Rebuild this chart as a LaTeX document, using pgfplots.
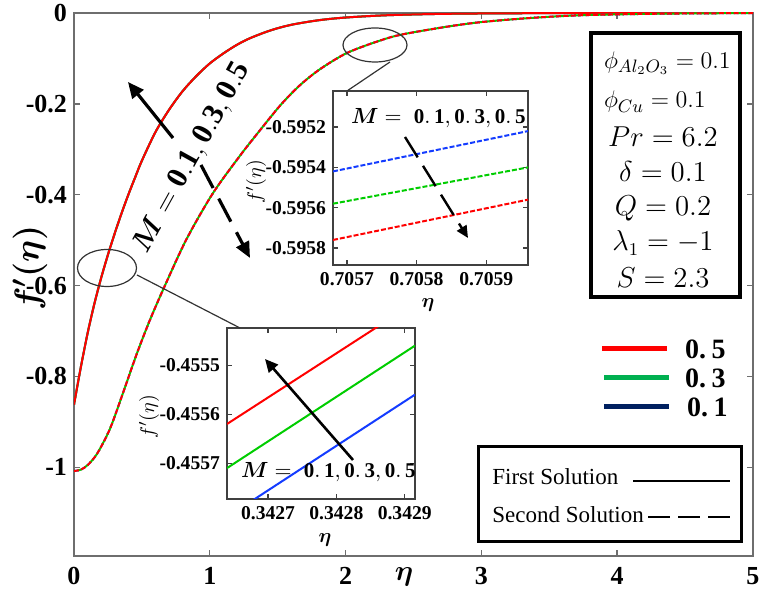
\documentclass[border=0pt]{standalone}
\usepackage{fontspec}
\setmainfont{Liberation Serif}
\usepackage{amsmath}
\usepackage{bm}
\usepackage{pgfplots}
\usepackage{pgfplotstable}
\pgfplotsset{compat=1.18}
\usetikzlibrary{arrows.meta}
\definecolor{cred}{RGB}{255,0,0}
\definecolor{cgreen}{RGB}{0,205,0}
\definecolor{cblue}{RGB}{20,60,255}
\definecolor{lgreen}{RGB}{0,176,80}
\definecolor{lblue}{RGB}{0,32,96}
\definecolor{axgray}{RGB}{110,110,110}

\pgfplotstableread{
eta fp
0    -0.862
0.05 -0.780
0.1  -0.705
0.15 -0.640
0.2  -0.583
0.25 -0.532
0.3  -0.485
0.35 -0.441
0.4  -0.400
0.45 -0.362
0.5  -0.325
0.6  -0.262
0.7  -0.213
0.8  -0.172
0.9  -0.139
1.0  -0.111
1.1  -0.089
1.2  -0.070
1.3  -0.055
1.45 -0.038
1.6  -0.026
1.8  -0.016
2.0  -0.010
2.3  -0.005
2.7  -0.002
3.2  -0.0007
4.0  -0.0001
5.0  0
}\first

\pgfplotstableread{
eta fp
0     -1.008
0.05  -1.005
0.1   -0.995
0.17  -0.970
0.265 -0.915
0.36  -0.837
0.46  -0.752
0.56  -0.675
0.68  -0.593
0.83  -0.497
1.02  -0.398
1.22  -0.315
1.37  -0.258
1.52  -0.203
1.66  -0.160
1.81  -0.124
2.01  -0.088
2.25  -0.061
2.42  -0.047
2.75  -0.030
3.0   -0.020
3.36  -0.011
3.73  -0.005
4.2   -0.002
4.6   -0.0008
5.0   -0.0003
}\second

\newcommand{\fpr}{f^{\prime}(\eta)}

\begin{document}
\begin{tikzpicture}
% ---------------- main axis
\begin{axis}[
  at={(37pt,18pt)}, anchor=south west, scale only axis,
  width=339.5pt, height=271.5pt,
  xmin=0, xmax=5, ymin=-1.195, ymax=0,
  xtick={0,1,2,3,4,5}, xticklabels={0,1,2,3,4,5},
  ytick={-1,-0.8,-0.6,-0.4,-0.2,0}, yticklabels={-1,-0.8,-0.6,-0.4,-0.2,0},
  tick label style={font=\fontsize{13}{13}\selectfont\bfseries},
  xticklabel style={yshift=-2pt},
  axis line style={axgray, line width=0.7pt},
  every tick/.style={axgray, line width=0.7pt},
  major tick length=3pt,
  tick align=inside,
]
\addplot[cblue, line width=1pt, smooth, no markers] table[x=eta,y=fp] {\first};
\addplot[cgreen, line width=1pt, smooth, no markers] table[x=eta,y=fp] {\first};
\addplot[cred, line width=1pt, smooth, no markers] table[x=eta,y=fp] {\first};
\addplot[cblue, line width=1pt, smooth, no markers, dash pattern=on 2.5pt off 1.2pt] table[x=eta,y=fp] {\second};
\addplot[cgreen, line width=1pt, smooth, no markers, dash pattern=on 2.5pt off 1.2pt, dash phase=1.85pt] table[x=eta,y=fp] {\second};
\addplot[cred, line width=1pt, smooth, no markers, dash pattern=on 2.5pt off 1.2pt] table[x=eta,y=fp] {\second};
\end{axis}

% ---------------- inset 1 (second solution)
\begin{axis}[
  at={(166.5pt,163.5pt)}, anchor=south west, scale only axis,
  width=97.5pt, height=87pt,
  xmin=0.70568, xmax=0.70596, ymin=-0.595884, ymax=-0.595021,
  xtick={0.7057,0.7058,0.7059}, xticklabels={0.7057,0.7058,0.7059},
  ytick={-0.5958,-0.5956,-0.5954,-0.5952}, yticklabels={-0.5958,-0.5956,-0.5954,-0.5952},
  tick label style={font=\fontsize{9.8}{9.8}\selectfont\bfseries},
  axis background/.style={fill=white},
  axis line style={black!75, line width=0.7pt},
  every tick/.style={black!75, line width=0.6pt},
  major tick length=2.5pt, tick align=inside,
]
\addplot[cblue, line width=1pt, dash pattern=on 2.5pt off 1pt] coordinates {(0.70568,-0.59542) (0.70596,-0.59522)};
\addplot[cgreen, line width=1pt, dash pattern=on 2.5pt off 1pt] coordinates {(0.70568,-0.59558) (0.70596,-0.59540)};
\addplot[cred, line width=1pt, dash pattern=on 2.5pt off 1pt] coordinates {(0.70568,-0.59576) (0.70596,-0.59556)};
\end{axis}

% ---------------- inset 2 (first solution)
\begin{axis}[
  at={(113.5pt,46.5pt)}, anchor=south west, scale only axis,
  width=94pt, height=85.5pt,
  xmin=0.34264, xmax=0.342915, ymin=-0.455773, ymax=-0.455424,
  xtick={0.3427,0.3428,0.3429}, xticklabels={0.3427,0.3428,0.3429},
  ytick={-0.4557,-0.4556,-0.4555}, yticklabels={-0.4557,-0.4556,-0.4555},
  tick label style={font=\fontsize{9.8}{9.8}\selectfont\bfseries},
  axis background/.style={fill=white},
  axis line style={black!75, line width=0.7pt},
  every tick/.style={black!75, line width=0.6pt},
  major tick length=2.5pt, tick align=inside,
]
\addplot[cblue, line width=1pt] coordinates {(0.34264,-0.45581) (0.342915,-0.45556)};
\addplot[cgreen, line width=1pt] coordinates {(0.34264,-0.45571) (0.342915,-0.45546)};
\addplot[cred, line width=1pt] coordinates {(0.34264,-0.45562) (0.342915,-0.455372)};
\end{axis}

% ---------------- annotations (pixel grid of the reference)
\begin{scope}[yshift=296pt, x=0.5pt, y=-0.5pt]
  \node[font=\fontsize{18}{18}\selectfont, rotate=90] at (30,268) {$\bm{\fpr}$};
  \node[font=\fontsize{14}{14}\selectfont] at (404,577) {$\bm{\eta}$};
  \node[font=\fontsize{10}{10}\selectfont, rotate=90] at (256,182) {$\fpr$};
  \node[font=\fontsize{10}{10}\selectfont] at (428,305) {$\bm{\eta}$};
  \node[font=\fontsize{10}{10}\selectfont, rotate=90] at (149,417) {$\fpr$};
  \node[font=\fontsize{10}{10}\selectfont] at (325,540) {$\bm{\eta}$};
  \draw[black!80, line width=0.6pt] (107,268) ellipse [x radius=14.75pt, y radius=9.25pt];
  \draw[black!80, line width=0.6pt] (137,275) -- (240,328);
  \draw[black!80, line width=0.6pt] (375,45) ellipse [x radius=16pt, y radius=8.5pt];
  \draw[black!80, line width=0.6pt] (390,62) -- (347,91);
  \node[font=\fontsize{15}{15}\selectfont, rotate=61] at (192,158) {$\bm{M} = \mathbf{0.1, 0.3, 0.5}$};
  \draw[line width=1.6pt, -{Triangle[length=8pt,width=7pt]}] (173,138) -- (128,82);
  \draw[line width=1.6pt, dash pattern=on 13pt off 6pt, -{Triangle[length=8pt,width=7pt]}] (201,165) -- (250,258);
  \node[font=\fontsize{10.5}{10.5}\selectfont, anchor=west] at (344,118) {$\bm{M} =\; \mathbf{0.\,1, 0.\,3, 0.\,5}$};
  \draw[line width=1.2pt, dash pattern=on 12pt off 5pt, -{Triangle[length=6pt,width=5.5pt]}] (405,137) -- (468,238);
  \draw[line width=1.3pt, -{Triangle[length=6.5pt,width=6pt]}] (353,460) -- (265,359);
  \node[font=\fontsize{10.5}{10.5}\selectfont, anchor=west] at (234,472) {$\bm{M} =\; \mathbf{0.\,1, 0.\,3, 0.\,5}$};
  \draw[line width=2pt, fill=white] (591,33) rectangle (740,297);
  \node[font=\fontsize{13}{13}\selectfont, anchor=west] at (597,63) {$\phi_{Al_2O_3} = 0.1$};
  \node[font=\fontsize{13}{13}\selectfont, anchor=west] at (597,102) {$\phi_{Cu} = 0.1$};
  \node[font=\fontsize{13.5}{13.5}\selectfont] at (663,137) {$Pr = 6.2$};
  \node[font=\fontsize{13.5}{13.5}\selectfont] at (663,172) {$\delta = 0.1$};
  \node[font=\fontsize{13.5}{13.5}\selectfont] at (663,208) {$Q = 0.2$};
  \node[font=\fontsize{13.5}{13.5}\selectfont] at (663,243) {$\lambda_1 = -1$};
  \node[font=\fontsize{13.5}{13.5}\selectfont] at (663,278) {$S = 2.3$};
  \draw[cred, line width=2.5pt] (602,349) -- (667,349);
  \draw[lgreen, line width=2.5pt] (604,378) -- (669,378);
  \draw[lblue, line width=2.5pt] (604,407) -- (669,407);
  \node[font=\fontsize{14}{14}\selectfont\bfseries, anchor=west] at (678,349) {0.\hspace{0.2em}5};
  \node[font=\fontsize{14}{14}\selectfont\bfseries, anchor=west] at (678,378) {0.\hspace{0.2em}3};
  \node[font=\fontsize{14}{14}\selectfont\bfseries, anchor=west] at (680,407) {0.\hspace{0.2em}1};
  \draw[line width=1.5pt, fill=white] (478,447) rectangle (741,542);
  \node[font=\fontsize{11.5}{12}\selectfont, anchor=west, inner sep=0pt] at (492,477) {First Solution};
  \node[font=\fontsize{11.5}{12}\selectfont, anchor=west, inner sep=0pt] at (492,515) {Second Solution};
  \draw[line width=1.3pt] (633,481) -- (730,481);
  \draw[line width=1.3pt, dash pattern=on 11pt off 4pt] (648,517) -- (730,517);
\end{scope}

\pgfresetboundingbox
\path (0,0) rectangle (381pt,296pt);
\end{tikzpicture}
\end{document}
